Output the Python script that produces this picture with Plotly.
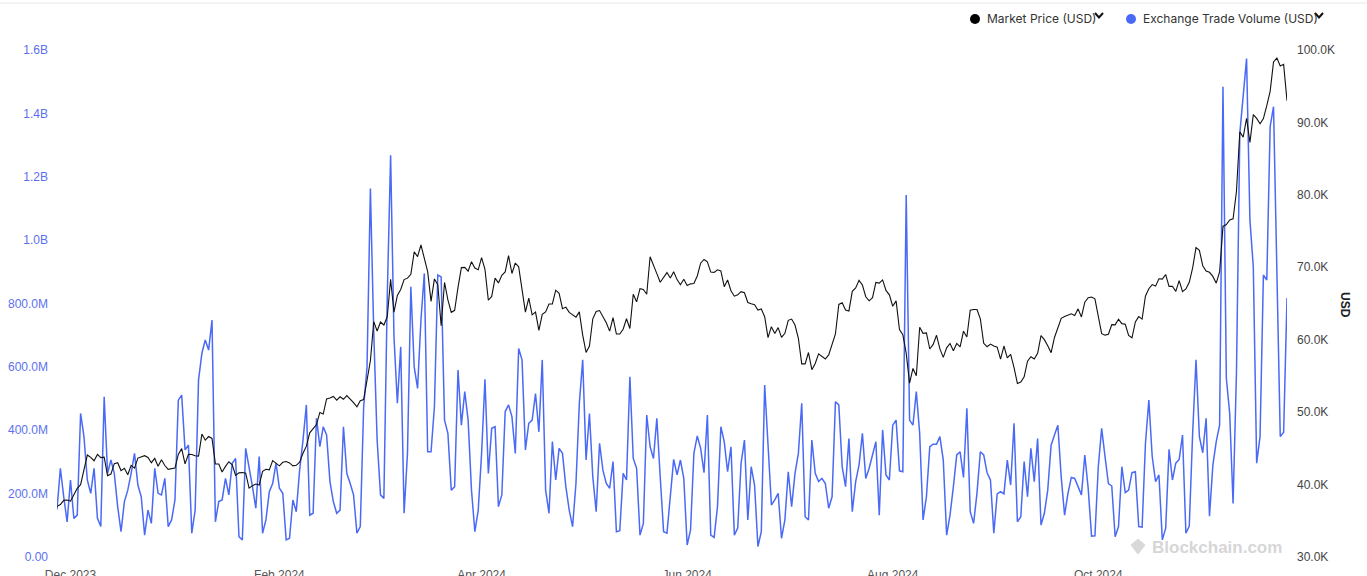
import pandas as pd
import plotly.graph_objects as go

# ---------------- datos ----------------
fecha_inicio = "2023-11-27"

# Market Price (USD), un valor por día
precio_nov23 = [37000, 37250, 37830, 37860, 37710]
precio_dic = [38690, 39470, 39980, 41980, 44080, 43750, 43290, 44170, 43720, 43790,
              41240, 41450, 42890, 43020, 41930, 42240, 41360, 42650, 42270, 43660,
              43860, 43990, 43740, 43020, 43610, 42520, 43440, 42630, 42100, 42160, 42270]
precio_ene = [44170, 44960, 42850, 44180, 44160, 43970, 43930, 46970, 46130, 46630,
              46370, 42850, 42840, 41730, 42510, 43150, 42740, 41260, 41620, 41660,
              41580, 39510, 39850, 40080, 39930, 41820, 42120, 42030, 43300, 42940, 42580]
precio_feb = [43080, 43190, 42990, 42580, 42660, 43080, 44320, 45300, 47150, 47770,
              48290, 49960, 49740, 51830, 51940, 52160, 51660, 52120, 51780, 52280,
              51840, 51300, 50730, 51570, 51730, 54520, 57090, 62500, 61200]
precio_mar = [62440, 62030, 63170, 68330, 63800, 66110, 66930, 68300, 68500, 69020,
              72120, 71480, 73080, 71400, 69400, 65300, 68390, 67610, 61930, 67910,
              65490, 63780, 64060, 67230, 69960, 69990, 69460, 70780, 69890, 69650, 71330]
precio_abr = [69700, 65450, 65980, 68510, 67840, 68900, 69360, 71620, 69140, 70590,
              70060, 67200, 63820, 65740, 63430, 63810, 61280, 63510, 63840, 64940,
              64940, 66840, 66410, 64290, 64500, 63770, 63460, 63120, 63840, 60640]
precio_may = [58250, 59120, 62890, 63890, 64030, 63160, 62330, 61190, 63050, 60790,
              60790, 61450, 62900, 61550, 66270, 65230, 67050, 66940, 66280, 71450,
              70140, 69120, 67930, 68530, 69270, 68510, 69390, 68300, 67580, 68360, 67490]
precio_jun = [67710, 67750, 68800, 70570, 71080, 70760, 69340, 69300, 69650, 69500,
              67320, 68240, 66760, 66010, 66190, 66640, 66490, 65140, 64960, 64830,
              64100, 64250, 63180, 60280, 61800, 60860, 61670, 60320, 60890, 62680]
precio_jul = [62850, 62030, 60200, 56660, 56660, 58230, 55860, 56710, 58050, 57720,
              57340, 57900, 59230, 60790, 64870, 65100, 64090, 63970, 66680, 67150,
              68190, 67550, 65930, 65370, 65800, 67910, 67810, 68260, 66800, 66200, 64620]
precio_ago = [65360, 61410, 60680, 58120, 53990, 56030, 55030, 61710, 60880, 60940,
              58720, 59350, 60610, 58740, 57560, 58880, 59480, 58480, 59490, 59010,
              61180, 60380, 64090, 64180, 64180, 62880, 59500, 59030, 59390, 59120, 58970]
precio_sep = [57330, 59130, 57480, 57970, 56160, 53950, 54160, 54870, 57040, 57650,
              57340, 58130, 60570, 60010, 59180, 58210, 60310, 61760, 62950, 63200,
              63350, 63580, 63340, 64260, 63140, 65180, 65790, 65890, 65640, 63330]
precio_oct = [60840, 60630, 60750, 62090, 62050, 62820, 62220, 62130, 60580, 60270,
              62450, 63190, 62850, 66050, 67040, 67610, 67400, 68420, 68360, 69000,
              67370, 67380, 66680, 68160, 66640, 67010, 67930, 69910, 72720, 72340, 70220]
precio_nov24 = [69490, 69310, 68740, 67810, 69360, 75640, 75900, 76540, 76680, 80470,
                88700, 87960, 90580, 87250, 91070, 90560, 89810, 90540, 92310, 94290,
                98350, 98890, 97780, 98020, 93010]

# Exchange Trade Volume (USD), millones
volumen_1 = [150, 280, 190, 111, 243, 122, 132, 453, 380, 243,
             201, 280, 122, 96, 506, 264, 306, 264, 159, 80,
             175, 211, 264, 327, 227, 190, 69, 148, 106, 280,
             201, 196, 248, 96, 117, 180, 495, 511, 338, 353,
             75, 148, 558, 643, 685, 653, 748, 111, 175, 180,
             248, 196, 296, 311, 64, 54, 343, 285, 222]
volumen_2 = [154, 317, 75, 117, 206, 232, 296, 217, 201, 54,
             59, 180, 143, 274, 369, 480, 132, 138, 438, 348,
             411, 385, 238, 175, 138, 148, 411, 264, 232, 196,
             75, 96, 474, 600, 1163, 706, 369, 196, 185, 821,
             1268, 695, 485, 663, 138, 327, 853, 600, 532, 748,
             895, 332, 332, 474, 890, 884, 432, 390, 211, 222]
volumen_3 = [590, 416, 522, 432, 211, 80, 148, 327, 561, 264,
             406, 411, 159, 196, 459, 480, 443, 327, 658, 622,
             338, 422, 432, 516, 395, 622, 211, 138, 364, 243,
             343, 327, 222, 148, 96, 232, 485, 622, 306, 453,
             253, 143, 359, 274, 232, 217, 301, 80, 83, 264,
             243, 569, 311, 280, 69, 106, 448, 348, 311, 438,
             253, 80, 75]
volumen_4 = [201, 308, 259, 306, 248, 38, 85, 327, 382, 343,
             266, 448, 69, 62, 159, 411, 364, 269, 348, 69,
             91, 296, 369, 117, 285, 227, 33, 80, 543, 364,
             164, 180, 201, 59, 117, 269, 159, 264, 327, 485,
             127, 117, 369, 264, 238, 248, 232, 154, 190, 490,
             480, 285, 222, 374, 143, 238, 290, 390, 248, 280, 327]
volumen_5 = [364, 132, 401, 259, 243, 416, 432, 272, 269, 1142,
             432, 416, 522, 390, 117, 190, 348, 356, 356, 380,
             306, 69, 132, 222, 322, 332, 251, 469, 143, 106,
             201, 332, 322, 266, 243, 75, 199, 206, 199, 306,
             227, 422, 111, 127, 301, 190, 343, 238, 374, 101,
             138, 211, 353, 385, 416, 253, 132, 201, 251, 248, 222]
volumen_6 = [196, 322, 217, 66, 67, 285, 406, 317, 232, 224,
             64, 96, 285, 203, 211, 266, 269, 96, 94, 359,
             495, 317, 238, 259, 54, 91, 340, 243, 296, 308,
             385, 75, 98, 390, 622, 380, 329, 438, 129, 290,
             364, 416, 1484, 564, 453, 169, 580, 1337, 1452, 1573,
             1063, 916, 296, 380, 890, 874, 1358, 1421, 900, 380,
             394, 817]

vol_ticks = [0, 2e8, 4e8, 6e8, 8e8, 1.0e9, 1.2e9, 1.4e9, 1.6e9]
vol_labels = ["0.00", "200.0M", "400.0M", "600.0M", "800.0M", "1.0B", "1.2B", "1.4B", "1.6B"]
precio_ticks = [30000, 40000, 50000, 60000, 70000, 80000, 90000, 100000]
precio_labels = ["30.0K", "40.0K", "50.0K", "60.0K", "70.0K", "80.0K", "90.0K", "100.0K"]

precio = (precio_nov23 + precio_dic + precio_ene + precio_feb + precio_mar + precio_abr
          + precio_may + precio_jun + precio_jul + precio_ago + precio_sep + precio_oct + precio_nov24)
volumen = [v * 1e6 for v in volumen_1 + volumen_2 + volumen_3 + volumen_4 + volumen_5 + volumen_6]
fechas = pd.date_range(fecha_inicio, periods=len(precio), freq="D")

# ---------------- figura ----------------
AZUL = "#4a6af6"
W, H = 1367, 576
ML, MR, MT, MB = 57, 80, 50, 19
PW, PH = W - ML - MR, H - MT - MB


def px(x):  # pixel -> paper x
    return (x - ML) / PW


def py(y):  # pixel -> paper y
    return (H - MB - y) / PH


fig = go.Figure()
fig.add_trace(go.Scatter(x=fechas, y=volumen, mode="lines", name="Exchange Trade Volume (USD)",
                         line=dict(color=AZUL, width=1.5), yaxis="y"))
fig.add_trace(go.Scatter(x=fechas, y=precio, mode="lines", name="Market Price (USD)",
                         line=dict(color="#111111", width=1.1), yaxis="y2"))

fig.update_layout(
    width=W, height=H,
    margin=dict(l=ML, r=MR, t=MT, b=MB, autoexpand=False),
    paper_bgcolor="white", plot_bgcolor="white",
    showlegend=False,
    font=dict(family="Arial, Liberation Sans, sans-serif", size=12, color="#444"),
    xaxis=dict(type="date", range=[fechas[0], fechas[-1]], dtick="M2", tick0="2023-12-01",
               tickformat="%b %Y", showgrid=False, zeroline=False, showline=False,
               automargin=False, ticklabelstandoff=9, tickfont=dict(color="#555", size=12)),
    yaxis=dict(range=[0, 1.6e9], tickvals=vol_ticks, ticktext=vol_labels, showgrid=False,
               zeroline=False, showline=False, automargin=False, ticklabelstandoff=8,
               tickfont=dict(color="#5b70f0", size=12)),
    yaxis2=dict(range=[30000, 100000], tickvals=precio_ticks, ticktext=precio_labels,
                overlaying="y", side="right", showgrid=False, zeroline=False, showline=False,
                automargin=False, ticklabelstandoff=9, tickfont=dict(color="#444", size=12)),
)

# eje derecho: título
fig.add_annotation(text="<b>USD</b>", textangle=90, x=px(1354), y=py(305), xref="paper", yref="paper",
                   showarrow=False, font=dict(size=12, color="#222"))

# leyenda personalizada
leyenda = [("Market Price (USD)", "#000000", 975, 985, 1099),
           ("Exchange Trade Volume (USD)", AZUL, 1131, 1141, 1319)]
for texto, color, xc, xt, xv in leyenda:
    fig.add_shape(type="circle", xref="paper", yref="paper",
                  x0=px(xc - 5), x1=px(xc + 5), y0=py(24), y1=py(14),
                  fillcolor=color, line=dict(color=color, width=0))
    fig.add_annotation(text=texto, x=px(xt), y=py(19), xref="paper", yref="paper",
                       xanchor="left", yanchor="middle", showarrow=False,
                       font=dict(family="Inter, Noto Sans, sans-serif", size=12, color="#333"))
    fig.add_shape(type="path", xref="paper", yref="paper",
                  path=f"M {px(xv - 4)},{py(13)} L {px(xv)},{py(17.5)} L {px(xv + 4)},{py(13)}",
                  line=dict(color="#111", width=2))

# línea superior
fig.add_shape(type="line", xref="paper", yref="paper", x0=px(0), x1=px(W), y0=py(3), y1=py(3),
              line=dict(color="#e6e6e6", width=1))

# marca de agua
fig.add_shape(type="path", xref="paper", yref="paper",
              path=f"M {px(1138)},{py(539)} L {px(1145)},{py(545)} L {px(1138)},{py(554)} "
                   f"L {px(1131)},{py(545)} Z",
              fillcolor="#d9d9d9", line=dict(color="#d9d9d9", width=1))
fig.add_annotation(text="<b>Blockchain.com</b>", x=px(1150), y=py(547), xref="paper", yref="paper",
                   xanchor="left", yanchor="middle", showarrow=False,
                   font=dict(family="Arial, Liberation Sans, sans-serif", size=17, color="#d6d6d6"))

fig.write_html("out.html", config={"displayModeBar": False},
               post_script="document.body.style.margin='0';")
